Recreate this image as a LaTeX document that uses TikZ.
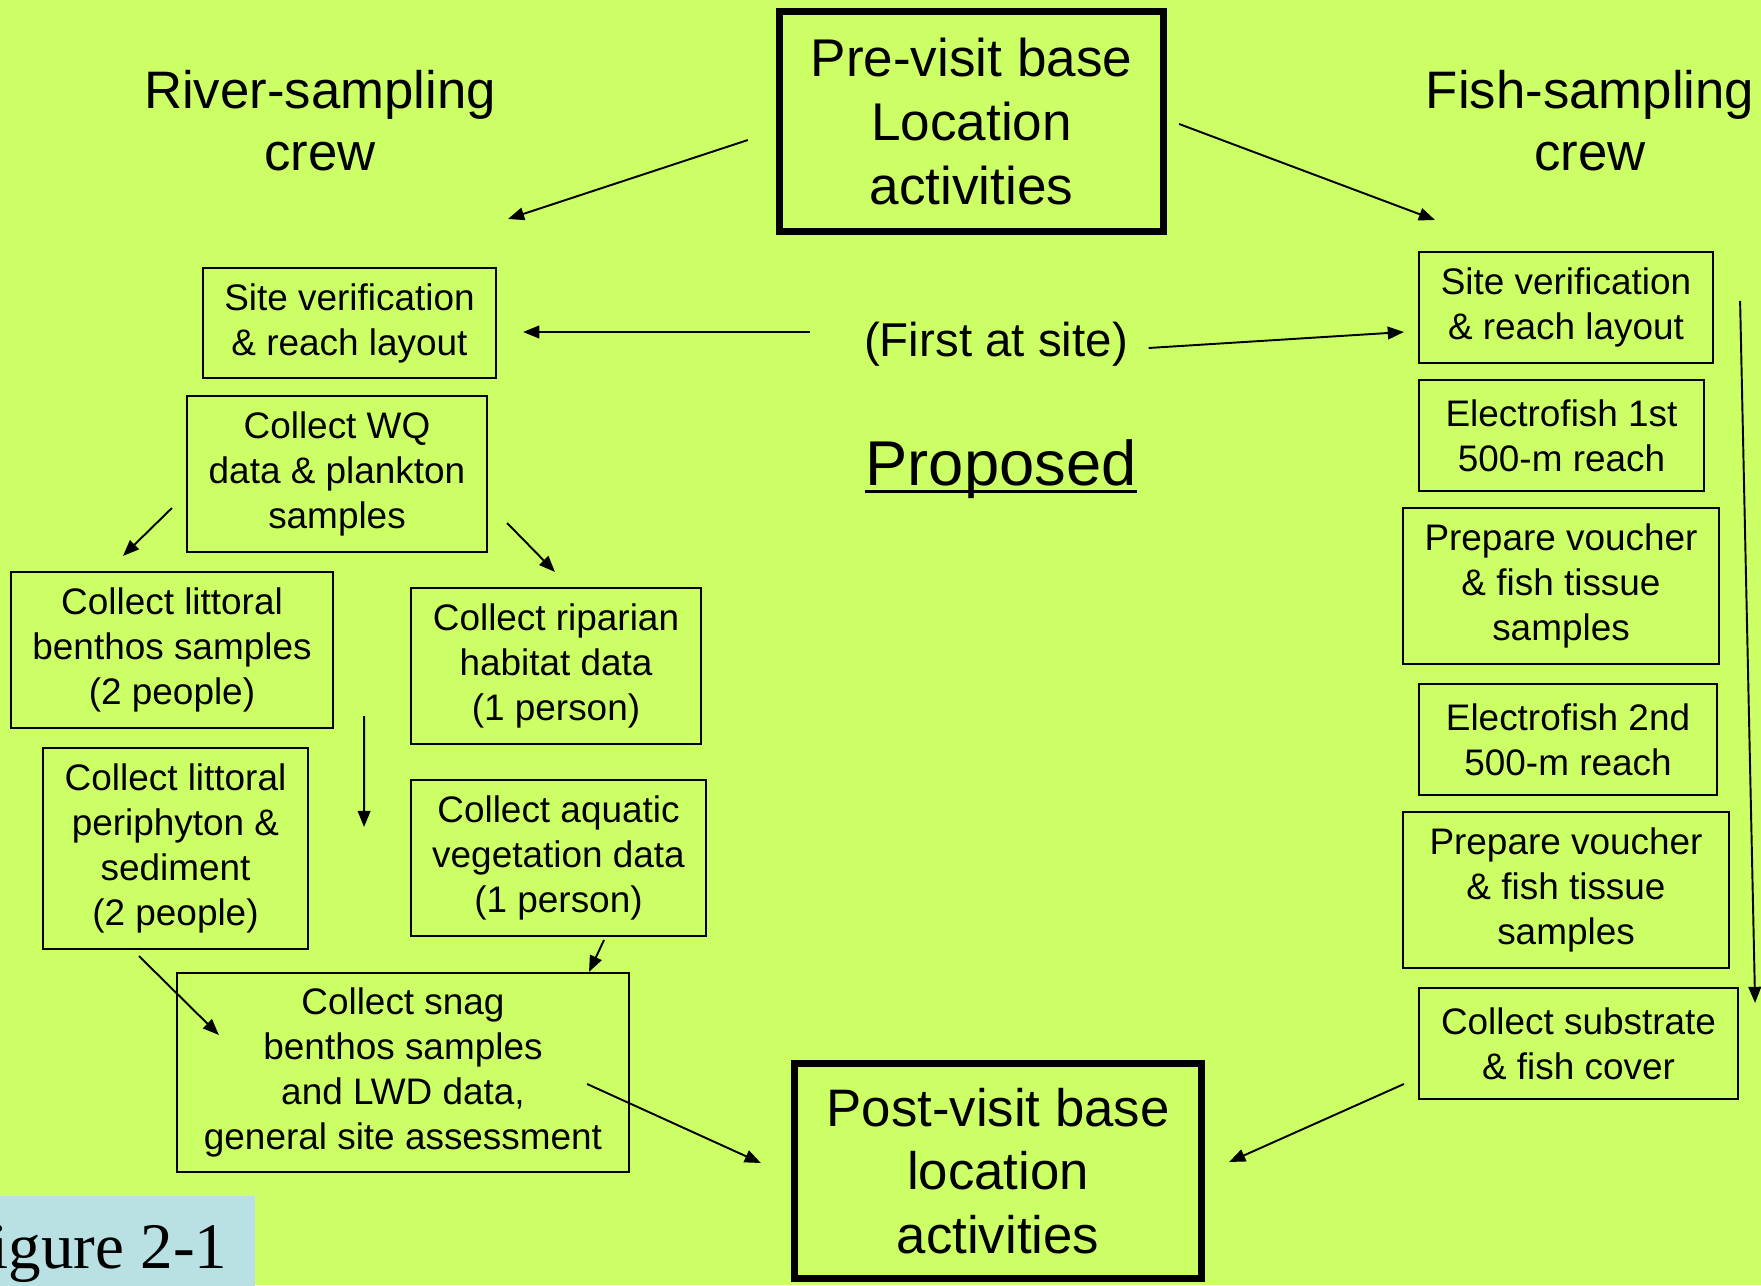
\documentclass[tikz,border=0pt]{standalone}
\usepackage{fontspec}
\setmainfont{Liberation Sans}
\newfontfamily\figfont{Liberation Serif}
\usetikzlibrary{calc, arrows.meta}

\definecolor{limebg}{HTML}{CCFF66}
\definecolor{figbg}{HTML}{B9E0E3}

\begin{document}
\begin{tikzpicture}[x=0.01cm, y=-0.01cm,
        box/.style={draw=black, line width=0.5pt, inner sep=0pt, outer sep=0pt, align=center, font=\fontsize{10.5}{12.8}\selectfont},
        bigbox/.style={draw=black, line width=2pt, inner sep=0pt, outer sep=0pt, align=center},
        crew/.style={align=center, inner sep=0pt, font=\fontsize{15}{17.6}\selectfont},
        arr/.style={line width=0.55pt, black, -{Triangle[length=4.6pt, width=3.6pt]}}]
        \fill[limebg] (0,0) rectangle (1761,1285);
        \clip (0,0) rectangle (1761,1285);

        \node[bigbox, minimum width=3.84cm, minimum height=2.2cm, font=\fontsize{15.1}{18.2}\selectfont] (pre) at (971.5,121.5) {Pre-visit base\\Location\\activities};
        \node[crew] (river) at (320,121) {River-sampling\\crew};
        \node[crew] (fish) at (1590,121) {Fish-sampling\\crew};
        \node[inner sep=0pt, anchor=base, font=\fontsize{13.5}{16}\selectfont] (first) at (996,356) {(First at site)};
        \node[inner sep=0pt, anchor=base, font=\fontsize{18}{21}\selectfont] (prop) at (1001,485) {Proposed};
        \draw[line width=1pt] ([yshift=-1.8pt]prop.base west) -- ([yshift=-1.8pt]prop.base east);

        \node[box, minimum width=2.93cm, minimum height=1.1cm] (sitel) at (349.5,323) {Site verification\\\& reach layout};
        \node[box, minimum width=3cm, minimum height=1.56cm] (wq) at (337,474) {Collect WQ\\data \& plankton\\samples};
        \node[box, minimum width=3.22cm, minimum height=1.56cm] (benthos) at (172,650) {Collect littoral\\benthos samples\\(2 people)};
        \node[box, minimum width=2.9cm, minimum height=1.56cm] (riparian) at (556,666) {Collect riparian\\habitat data\\(1 person)};
        \node[box, minimum width=2.65cm, minimum height=2.01cm] (periph) at (175.5,848.5) {Collect littoral\\periphyton \&\\sediment\\(2 people)};
        \node[box, minimum width=2.95cm, minimum height=1.56cm] (aquatic) at (558.5,858) {Collect aquatic\\vegetation data\\(1 person)};
        \node[box, minimum width=4.52cm, minimum height=1.99cm] (snag) at (403,1072.5) {Collect snag\\benthos samples\\and LWD data,\\general site assessment};

        \node[box, minimum width=2.94cm, minimum height=1.11cm] (siter) at (1566,307.5) {Site verification\\\& reach layout};
        \node[box, minimum width=2.85cm, minimum height=1.11cm] (efish1) at (1561.5,435.5) {Electrofish 1st\\500-m reach};
        \node[box, minimum width=3.16cm, minimum height=1.56cm] (voucher1) at (1561,586) {Prepare voucher\\\& fish tissue\\samples};
        \node[box, minimum width=2.98cm, minimum height=1.11cm] (efish2) at (1568,739.5) {Electrofish 2nd\\500-m reach};
        \node[box, minimum width=3.26cm, minimum height=1.56cm] (voucher2) at (1566,890) {Prepare voucher\\\& fish tissue\\samples};
        \node[box, minimum width=3.19cm, minimum height=1.11cm] (substr) at (1578.5,1043.5) {Collect substrate\\\& fish cover};

        \node[bigbox, minimum width=4.07cm, minimum height=2.15cm, font=\fontsize{15}{18}\selectfont] (post) at (998,1171) {Post-visit base\\location\\activities};

        \fill[figbg] (0,1196) rectangle (255,1290);
        \node[anchor=base east, inner sep=0pt, font=\figfont\fontsize{18.5}{22}\selectfont] (figlabel) at (228,1268) {Figure 2-1};

        \draw[arr] ($(pre.west)+(-31.5,18.5)$) -- ($(sitel.north)+(158.5,-49)$);
        \draw[arr] ($(pre.east)+(15.5,2.5)$) -- ($(siter.north)+(-131,-32)$);
        \draw[arr] ($(first.base west)+(-53,-24)$) -- ($(sitel.east)+(27,9)$);
        \draw[arr] ($(first.base east)+(20,-8)$) -- ($(siter.west)+(-15,24.5)$);
        \draw[arr] ($(wq.west)+(-15,34)$) -- ($(benthos.north)+(-49,-16)$);
        \draw[arr] ($(wq.east)+(20,49)$) -- ($(riparian.north)+(-1,-16)$);
        \draw[arr] ($(benthos.south east)+(31,-12)$) -- ($(periph.east)+(56,-21.5)$);
        \draw[arr] ($(aquatic.south)+(45.5,4)$) -- ($(snag.north)+(186,-1)$);
        \draw[arr] ($(periph.south)+(-36.5,7)$) -- ($(snag.west)+(42,-37.5)$);
        \draw[arr] ($(snag.east)+(-42,11.5)$) -- ($(post.west)+(-33.5,-8)$);
        \draw[arr] ($(substr.west)+(-15,40.5)$) -- ($(post.east)+(27.5,-9)$);
        \draw[arr] ($(siter.east)+(27,-6.5)$) -- ($(substr.east)+(17,-40.5)$);
\end{tikzpicture}
\end{document}
